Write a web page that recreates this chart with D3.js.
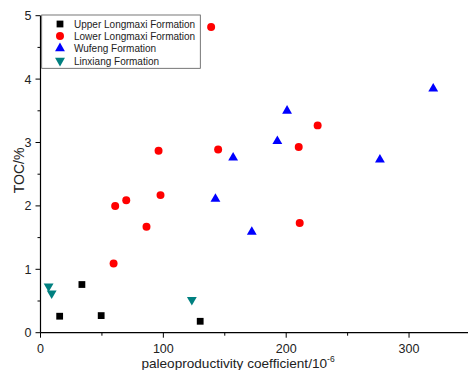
<!DOCTYPE html>
<html>
<head>
<meta charset="utf-8">
<script src="https://cdn.jsdelivr.net/npm/d3@7"></script>
<style>
  body { margin: 0; background: #fff; }
  svg { font-family: "Liberation Sans", Arial, sans-serif; }
</style>
</head>
<body>
<figure id="scatter" style="margin:0"></figure>
<script>
// series values: [paleoproductivity, TOC]
const upperLongmaxi = [[15.6, 0.26], [33.7, 0.76], [49.4, 0.27], [130, 0.18]];
const lowerLongmaxi = [
  [138.9, 4.82], [96.1, 2.87], [144.6, 2.89], [225.6, 3.27], [210.2, 2.93],
  [211, 1.73], [60.8, 2.00], [69.8, 2.09], [97.7, 2.17], [86.3, 1.67], [59.5, 1.09]
];
const wufeng = [
  [319.7, 3.85], [200.7, 3.50], [192.8, 3.02], [156.8, 2.76], [276.3, 2.73],
  [142.4, 2.11], [172, 1.59]
];
const linxiang = [[6.6, 0.73], [9.1, 0.62], [123.2, 0.52]];

const seriesNames = ["Upper Longmaxi Formation", "Lower Longmaxi Formation", "Wufeng Formation", "Linxiang Formation"];
const xTicks = [0, 100, 200, 300];
const yTicks = [0, 1, 2, 3, 4, 5];

const width = 468, height = 370;

const series = [
  { name: seriesNames[0], data: upperLongmaxi, color: "#000000", shape: d3.symbolSquare, size: 46, rot: 0 },
  { name: seriesNames[1], data: lowerLongmaxi, color: "#ff0000", shape: d3.symbolCircle, size: 50, rot: 0 },
  { name: seriesNames[2], data: wufeng, color: "#0000ff", shape: d3.symbolTriangle, size: 42, rot: 0 },
  { name: seriesNames[3], data: linxiang, color: "#008080", shape: d3.symbolTriangle, size: 42, rot: 180 }
];

const svg = d3.select("figure#scatter")
  .append("svg")
  .attr("width", width)
  .attr("height", height);

const x = d3.scaleLinear().domain([0, 348]).range([40.5, 468]);
const y = d3.scaleLinear().domain([0, 5]).range([332.7, 15.7]);

// x axis with minor ticks
const xAxis = svg.append("g")
  .attr("transform", "translate(0," + y(0) + ")");
xAxis.append("line")
  .attr("x1", x(0)).attr("x2", width)
  .attr("stroke", "#000").attr("stroke-width", 1.2);
xAxis.selectAll(".minor")
  .data(d3.range(50, 348, 100))
  .enter().append("line")
  .attr("x1", d => x(d)).attr("x2", d => x(d))
  .attr("y1", 0).attr("y2", 3)
  .attr("stroke", "#000");
xAxis.selectAll(".major")
  .data(xTicks)
  .enter().append("line")
  .attr("x1", d => x(d)).attr("x2", d => x(d))
  .attr("y1", 0).attr("y2", 5)
  .attr("stroke", "#000");
xAxis.selectAll("text")
  .data(xTicks)
  .enter().append("text")
  .attr("x", d => x(d))
  .attr("y", 20)
  .attr("text-anchor", "middle")
  .attr("font-size", 12.5)
  .attr("fill", "#222")
  .text(d => d);

// y axis with minor ticks
const yAxis = svg.append("g")
  .attr("transform", "translate(" + x(0) + ",0)");
yAxis.append("line")
  .attr("y1", y(0)).attr("y2", y(5))
  .attr("stroke", "#000").attr("stroke-width", 1.2);
yAxis.selectAll(".minor")
  .data(d3.range(0.5, 5, 1))
  .enter().append("line")
  .attr("y1", d => y(d)).attr("y2", d => y(d))
  .attr("x1", 0).attr("x2", -3)
  .attr("stroke", "#000");
yAxis.selectAll(".major")
  .data(yTicks)
  .enter().append("line")
  .attr("y1", d => y(d)).attr("y2", d => y(d))
  .attr("x1", 0).attr("x2", -5)
  .attr("stroke", "#000");
yAxis.selectAll("text")
  .data(yTicks)
  .enter().append("text")
  .attr("x", -9)
  .attr("y", d => y(d) + 4.5)
  .attr("text-anchor", "end")
  .attr("font-size", 12.5)
  .attr("fill", "#222")
  .text(d => d);

// axis titles
svg.append("text")
  .attr("transform", "translate(24,170.5)rotate(-90)")
  .attr("text-anchor", "middle")
  .attr("font-size", 14)
  .attr("fill", "#222")
  .text("TOC/%");

const xTitle = svg.append("text")
  .attr("x", 238)
  .attr("y", 367.5)
  .attr("text-anchor", "middle")
  .attr("font-size", 13.6)
  .attr("fill", "#222");
xTitle.append("tspan").text("paleoproductivity coefficient/10");
xTitle.append("tspan").attr("dy", -6).attr("font-size", 8.5).text("-6");

// points
series.forEach(s => {
  svg.append("g").selectAll("path")
    .data(s.data)
    .enter().append("path")
    .attr("d", d3.symbol().type(s.shape).size(s.size))
    .attr("transform", d => "translate(" + x(d[0]) + "," + y(d[1]) + ")rotate(" + s.rot + ")")
    .attr("fill", s.color);
});

// legend
const legend = svg.append("g");
legend.append("rect")
  .attr("x", 41.7).attr("y", 15)
  .attr("width", 158.6).attr("height", 53.3)
  .attr("fill", "#fff")
  .attr("stroke", "#555").attr("stroke-width", 0.8);
const rowY = [24, 36, 48.3, 60.7];
series.forEach((s, i) => {
  legend.append("path")
    .attr("d", d3.symbol().type(s.shape).size(s.size))
    .attr("transform", "translate(60," + rowY[i] + ")rotate(" + s.rot + ")")
    .attr("fill", s.color);
  legend.append("text")
    .attr("x", 74)
    .attr("y", rowY[i] + 4)
    .attr("font-size", 10)
    .attr("fill", "#222")
    .text(s.name);
});
</script>
</body>
</html>
